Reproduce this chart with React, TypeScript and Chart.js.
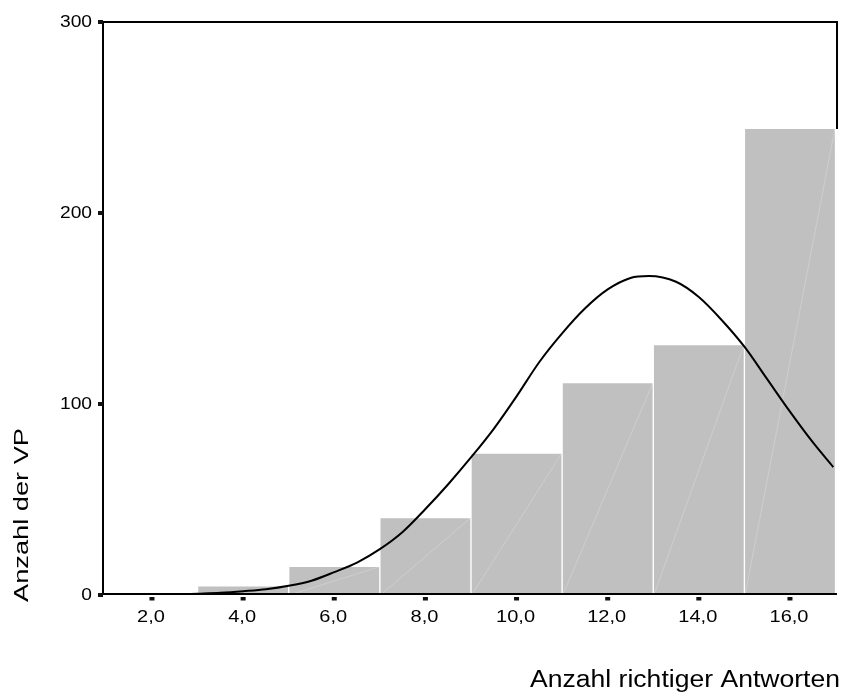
import React, { useEffect, useRef } from "react";
import { Chart, registerables } from "chart.js";

Chart.register(...registerables);

// Histogram bins (centre of each 2-wide bin) and counts
const binCenters = [4, 6, 8, 10, 12, 14, 16];
const binCounts = [4.5, 14.7, 40.2, 74, 110.8, 130.7, 244];

// Normal curve
const curveX = [2.55, 3, 3.5, 4, 4.5, 5, 5.5, 6, 6.5, 7, 7.5, 8, 8.5, 9, 9.5, 10, 10.5, 11, 11.5, 12, 12.5, 12.9, 13.5, 14, 14.5, 15, 15.5, 16, 16.5, 16.95];
const curveY = [0.3, 0.7, 1.2, 2, 3, 4.8, 7.5, 12, 17, 24, 33, 45, 58, 72, 87, 104, 122, 137, 150, 160, 166, 167, 164, 156, 144, 130, 113, 96, 80, 67];

const xTickValues = [2, 4, 6, 8, 10, 12, 14, 16];
const xTickLabels = ["2,0", "4,0", "6,0", "8,0", "10,0", "12,0", "14,0", "16,0"];
const yTickValues = [0, 100, 200, 300];
const yTickLabels = ["0", "100", "200", "300"];

const xTitle = "Anzahl richtiger Antworten";
const yTitle = "Anzahl der VP";

const FONT = '"Liberation Sans", Arial, sans-serif';

function drawStretched(
  ctx: CanvasRenderingContext2D,
  text: string,
  x: number,
  y: number,
  sx: number,
  align: CanvasTextAlign,
  baseline: CanvasTextBaseline
) {
  ctx.save();
  ctx.translate(x, y);
  ctx.scale(sx, 1);
  ctx.textAlign = align;
  ctx.textBaseline = baseline;
  ctx.fillText(text, 0, 0);
  ctx.restore();
}

const framePlugin = {
  id: "spssFrame",
  beforeDatasetsDraw(chart: any) {
    const { ctx, chartArea: a } = chart;
    const barMeta = chart.getDatasetMeta(1);
    const last = barMeta.data[barMeta.data.length - 1];
    const rightEnd = last ? last.y : a.bottom;
    ctx.save();
    ctx.strokeStyle = "#000";
    ctx.lineWidth = 2;
    ctx.beginPath();
    ctx.moveTo(a.left, a.bottom);
    ctx.lineTo(a.left, a.top);
    ctx.lineTo(a.right, a.top);
    ctx.lineTo(a.right, rightEnd);
    ctx.stroke();
    ctx.restore();
  },
  afterDatasetDraw(chart: any, args: any) {
    if (args.index !== 1) return;
    const { ctx } = chart;
    ctx.save();
    ctx.strokeStyle = "rgba(255,255,255,0.22)";
    ctx.lineWidth = 1;
    args.meta.data.forEach((el: any) => {
      const w = el.width;
      ctx.beginPath();
      ctx.moveTo(el.x - w / 2, el.base);
      ctx.lineTo(el.x + w / 2, el.y);
      ctx.stroke();
    });
    ctx.restore();
  },
  afterDraw(chart: any) {
    const { ctx, chartArea: a, scales } = chart;
    const xs = scales.x;
    const ys = scales.y;
    ctx.save();
    // bottom axis line
    ctx.strokeStyle = "#000";
    ctx.lineWidth = 2;
    ctx.beginPath();
    ctx.moveTo(a.left, a.bottom - 1);
    ctx.lineTo(a.right, a.bottom - 1);
    ctx.stroke();

    ctx.fillStyle = "#111";
    // y tick marks
    yTickValues.forEach((v) => {
      const py = ys.getPixelForValue(v);
      ctx.fillRect(a.left - 5, py - 2, 5, 4);
    });
    // x tick marks
    xTickValues.forEach((v) => {
      const px = xs.getPixelForValue(v);
      ctx.fillRect(px - 2.5, a.bottom + 2, 5, 3.5);
    });

    ctx.fillStyle = "#000";
    ctx.font = `16px ${FONT}`;
    yTickValues.forEach((v, i) => {
      const py = ys.getPixelForValue(v);
      drawStretched(ctx, yTickLabels[i], a.left - 11, py + 0.5, 1.2, "right", "middle");
    });
    xTickValues.forEach((v, i) => {
      const px = xs.getPixelForValue(v);
      drawStretched(ctx, xTickLabels[i], px - 1, a.bottom + 23, 1.25, "center", "middle");
    });

    // x title
    ctx.font = `23px ${FONT}`;
    const xw = ctx.measureText(xTitle).width;
    drawStretched(ctx, xTitle, 840, 687, 310 / xw, "right", "alphabetic");

    // y title (rotated)
    ctx.font = `20px ${FONT}`;
    const yw = ctx.measureText(yTitle).width;
    ctx.save();
    ctx.translate(27.5, 602);
    ctx.rotate(-Math.PI / 2);
    ctx.scale(174 / yw, 1);
    ctx.textAlign = "left";
    ctx.textBaseline = "alphabetic";
    ctx.fillText(yTitle, 0, 0);
    ctx.restore();

    ctx.restore();
  },
};

export default function App() {
  const canvasRef = useRef<HTMLCanvasElement | null>(null);

  useEffect(() => {
    document.body.style.margin = "0";
    const canvas = canvasRef.current;
    if (!canvas) return;
    const chart = new Chart(canvas, {
      type: "bar",
      data: {
        datasets: [
          {
            type: "line",
            label: "Normalverteilung",
            data: curveX.map((x, i) => ({ x, y: curveY[i] })),
            borderColor: "#000",
            borderWidth: 2,
            pointRadius: 0,
            fill: false,
            cubicInterpolationMode: "monotone",
            order: 0,
          } as any,
          {
            type: "bar",
            label: "Anzahl",
            data: binCenters.map((x, i) => ({ x, y: binCounts[i] })),
            backgroundColor: "#c0c0c0",
            borderWidth: 0,
            barPercentage: 0.985,
            categoryPercentage: 1,
            order: 1,
          } as any,
        ],
      },
      options: {
        responsive: false,
        animation: false,
        layout: { padding: { top: 22, right: 7, left: 0, bottom: 0 } },
        plugins: {
          legend: { display: false },
          tooltip: { enabled: false },
          title: { display: false },
        },
        scales: {
          x: {
            type: "linear",
            min: 0.925,
            max: 17.032,
            offset: false,
            grid: { display: false, drawTicks: false, offset: false },
            border: { display: false },
            ticks: { display: false },
            afterFit: (scale: any) => {
              scale.height = 100;
            },
          },
          y: {
            type: "linear",
            min: 0,
            max: 300,
            grid: { display: false, drawTicks: false },
            border: { display: false },
            ticks: { display: false },
            afterFit: (scale: any) => {
              scale.width = 103;
            },
          },
        },
      },
      plugins: [framePlugin],
    });
    return () => chart.destroy();
  }, []);

  return (
    <div style={{ width: 844, height: 695, background: "#fff" }}>
      <canvas ref={canvasRef} width={844} height={695} style={{ display: "block" }} />
    </div>
  );
}
